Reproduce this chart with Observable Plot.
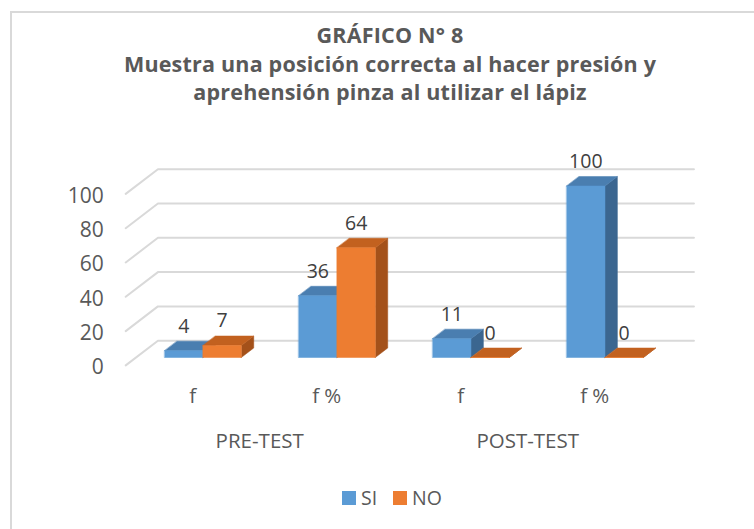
<!DOCTYPE html>
<html>
<head>
<meta charset="utf-8">
<script src="https://cdn.jsdelivr.net/npm/d3@7"></script>
<script src="https://cdn.jsdelivr.net/npm/@observablehq/plot@0.6"></script>
<style>
  html, body { margin: 0; padding: 0; background: #fff; overflow: hidden; width: 754px; height: 529px; }
  #page { position: relative; width: 754px; height: 529px; overflow: hidden; font-family: "Open Sans", sans-serif; }
  #frame { position: absolute; left: 10px; top: 11px; width: 900px; height: 700px; border: 2px solid #d9d9d9; box-sizing: border-box; }
  #chart { position: absolute; left: 0; top: 0; }
  .title { position: absolute; left: 0; width: 780px; text-align: center; font-weight: 700; font-size: 21.5px; letter-spacing: 0.2px; line-height: normal; color: #595959; white-space: nowrap; }
  .legend-box { position: absolute; width: 14px; height: 14px; }
  .legend-text { position: absolute; font-size: 19.5px; line-height: normal; color: #595959; }
</style>
</head>
<body>
<div id="page">
  <div id="frame"></div>
  <div id="chart"></div>
  <div class="title" style="top:20px">GRÁFICO N° 8</div>
  <div class="title" style="top:49px">Muestra una posición correcta al hacer presión y</div>
  <div class="title" style="top:77px">aprehensión pinza al utilizar el lápiz</div>
  <div class="legend-box" style="left:342px; top:491px; background:#5B9BD5"></div>
  <div class="legend-text" style="left:361px; top:484px">SI</div>
  <div class="legend-box" style="left:393px; top:491px; background:#ED7D31"></div>
  <div class="legend-text" style="left:412px; top:484px">NO</div>
</div>
<script>
// ---- data ----
const categories = ["f", "f %", "f", "f %"];
const categoryGroup = ["PRE-TEST", "PRE-TEST", "POST-TEST", "POST-TEST"];
const groups = ["PRE-TEST", "POST-TEST"];
const seriesNames = ["SI", "NO"];
const siValues = [4, 36, 11, 100];
const noValues = [7, 64, 0, 0];
const yTicks = [0, 20, 40, 60, 80, 100];

// ---- 3D projection settings (style) ----
const BAR_W = 0.286;   // width of one bar in category steps
const DX = 0.0925;     // depth of one bar, in category steps
const DY = 5.54;       // depth of one bar, in value units
const FRONT = -0.83;   // floor front edge depth (in bar depths)
const BACK = 1.77;     // back wall depth (in bar depths)

const palette = {
  SI: {front: "#5B9BD5", top: "#4A7EB0", side: "#3B6690"},
  NO: {front: "#ED7D31", top: "#C2611F", side: "#A4511A"}
};

// bars
const bars = [];
categories.forEach((c, i) => {
  seriesNames.forEach((s, k) => {
    const value = (k === 0 ? siValues : noValues)[i];
    const x1 = i - BAR_W + k * BAR_W;
    bars.push({i, s, value, x1, x2: x1 + BAR_W});
  });
});

// faces as polygons in data space
const faces = [];
bars.forEach(b => {
  const c = palette[b.s];
  const id = b.i + "-" + b.s;
  const poly = (name, fill, pts) => pts.forEach(([x, y]) => faces.push({id: id + name, fill, x, y}));
  poly("side", c.side, [[b.x2, 0], [b.x2 + DX, DY], [b.x2 + DX, b.value + DY], [b.x2, b.value]]);
  poly("top", c.top, [[b.x1, b.value], [b.x2, b.value], [b.x2 + DX, b.value + DY], [b.x1 + DX, b.value + DY]]);
  poly("front", c.front, [[b.x1, 0], [b.x2, 0], [b.x2, b.value], [b.x1, b.value]]);
});

// gridlines: floor diagonal + back wall
const grid = [];
yTicks.forEach(v => {
  grid.push({v, x: -0.5 + FRONT * DX, y: v + FRONT * DY});
  grid.push({v, x: -0.5 + BACK * DX, y: v + BACK * DY});
  grid.push({v, x: categories.length - 0.5 + BACK * DX, y: v + BACK * DY});
});

const plot = Plot.plot({
  width: 754,
  height: 529,
  margin: 0,
  x: {type: "linear", domain: [0, 3], range: [202.5, 604.5], axis: null},
  y: {type: "linear", domain: [0, 100], range: [357, 185.5], axis: null},
  color: {type: "identity"},
  style: {fontFamily: "Open Sans", background: "transparent", overflow: "visible"},
  marks: [
    Plot.line(grid, {x: "x", y: "y", z: "v", stroke: "#d9d9d9", strokeWidth: 2, strokeLinejoin: "round"}),
    Plot.line(faces, {x: "x", y: "y", z: "id", fill: "fill", stroke: "fill", strokeWidth: 0.5, curve: "linear-closed"}),
    Plot.text(yTicks, {
      x: () => -0.5 + FRONT * DX, y: d => d + FRONT * DY, text: d => String(d),
      textAnchor: "end", lineAnchor: "bottom", dx: -22, dy: 9, fontSize: 21, fill: "#595959"
    }),
    Plot.text(categories.map((c, i) => ({c, i})), {
      x: d => d.i + FRONT * DX, y: () => FRONT * DY, text: "c",
      lineAnchor: "bottom", dy: 38, fontSize: 20.5, fill: "#595959"
    }),
    Plot.text(groups.map((g, j) => ({g, u: d3.mean(categories.map((c, i) => i).filter(i => categoryGroup[i] === g))})), {
      x: d => d.u + FRONT * DX, y: () => FRONT * DY, text: "g",
      lineAnchor: "bottom", dy: 83, fontSize: 20.5, fill: "#595959"
    }),
    Plot.text(bars, {
      x: d => (d.x1 + d.x2) / 2, y: "value", text: d => String(d.value),
      lineAnchor: "bottom", dy: -18, fontSize: 19.5, fill: "#404040"
    })
  ]
});
document.getElementById("chart").appendChild(plot);
</script>
</body>
</html>
